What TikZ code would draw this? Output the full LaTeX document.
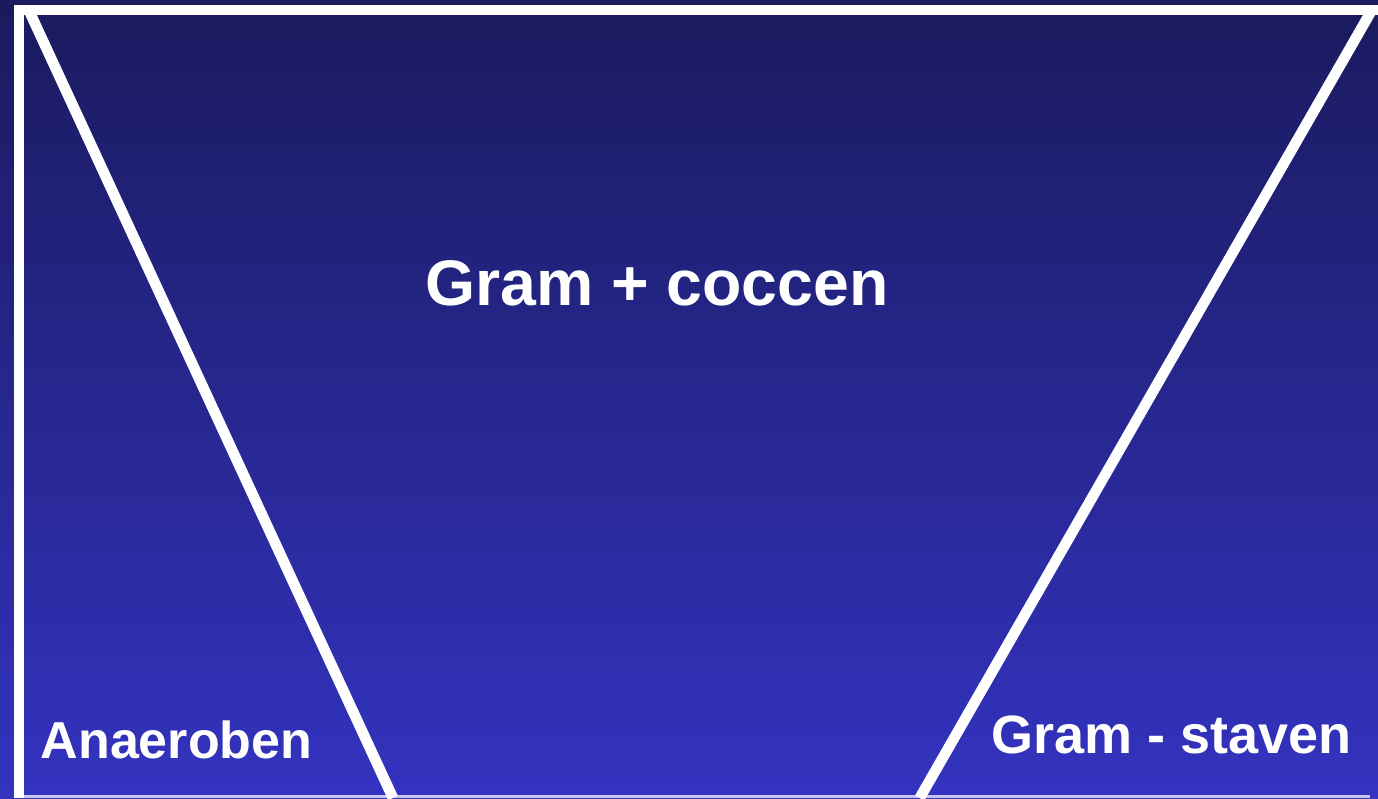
\documentclass[tikz,border=0pt]{standalone}
\usepackage{fontspec}
\setmainfont{Liberation Sans}
\definecolor{bgtop}{RGB}{26,26,94}
\definecolor{bgbot}{RGB}{51,51,192}
\definecolor{edgelav}{RGB}{196,196,236}
\begin{document}
\begin{tikzpicture}[x=1pt,y=-1pt,
  frameline/.style={draw=white,line width=10pt,line cap=butt},
  diagline/.style={draw=white,line width=10.6pt,line cap=butt},
  lbl/.style={text=white,inner sep=0pt,font=\bfseries}]
\useasboundingbox (0,0) rectangle (1378,798);
\shade[top color=bgtop,bottom color=bgbot] (0,0) rectangle (1378,798);
\begin{scope}
\clip (0,0) rectangle (1378,798);
% frame
\coordinate (tl) at (14,10);
\coordinate (tr) at (1378,10);
\coordinate (lt) at (19,5);
\coordinate (lb) at (19,798);
\path[frameline] (tl) -- (tr);
\path[frameline] (lt) -- (lb);
\fill[edgelav] (24,794.5) rectangle (1370,798);
% diagonals
\coordinate (d1t) at (28.7,10);
\coordinate (d1b) at (393,798);
\coordinate (d2t) at (1371.9,10);
\coordinate (d2b) at (919.7,798);
\path[diagline] (d1t) -- (d1b);
\path[diagline] (d2t) -- (d2b);
\end{scope}
% labels
\node[lbl,anchor=base,font=\fontsize{64.4}{70}\selectfont\bfseries] (gpc) at (657,305) {Gram + coccen};
\node[lbl,anchor=base west,font=\fontsize{52}{56}\selectfont\bfseries] (anae) at (40.5,758) {Anaeroben};
\node[lbl,anchor=base west,font=\fontsize{54}{58}\selectfont\bfseries] (gms) at (991,753) {Gram - staven};
\end{tikzpicture}
\end{document}
